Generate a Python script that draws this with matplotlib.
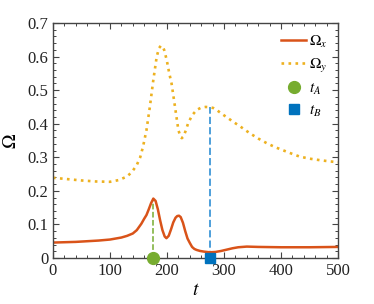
import numpy as np
import matplotlib
matplotlib.use('Agg')
import matplotlib.pyplot as plt
from matplotlib.ticker import MultipleLocator

plt.rcParams['font.family'] = ['Liberation Serif', 'DejaVu Serif']
plt.rcParams['mathtext.fontset'] = 'stix'

# 数据
t_x = [0, 20, 40, 60, 80, 100, 110, 120, 130, 140, 147, 155, 160, 164, 168, 172,
       176, 180, 184, 188, 192, 196, 199, 203, 207, 211, 215, 218, 221, 224, 228,
       232, 236, 240, 244, 248, 252, 258, 265, 275, 285, 295, 305, 315, 325, 340,
       360, 400, 450, 500]
omega_x = [0.046, 0.047, 0.048, 0.050, 0.052, 0.055, 0.058, 0.061, 0.066, 0.073,
           0.083, 0.102, 0.117, 0.128, 0.145, 0.163, 0.177, 0.170, 0.145, 0.112,
           0.083, 0.064, 0.059, 0.066, 0.085, 0.106, 0.120, 0.125, 0.126, 0.122,
           0.105, 0.080, 0.058, 0.045, 0.033, 0.027, 0.024, 0.021, 0.019, 0.017,
           0.018, 0.021, 0.025, 0.029, 0.032, 0.034, 0.033, 0.032, 0.032, 0.033]

t_y = [0, 25, 50, 75, 100, 115, 129, 138, 147, 153, 158, 164, 170, 176, 182, 186,
       189, 192, 195, 199.5, 204, 208, 214, 220, 224, 226, 229, 233, 237, 244, 252,
       260, 268, 275, 281, 287, 300, 316, 330, 345, 360, 375, 390, 405, 420, 433,
       450, 470, 485, 500]
omega_y = [0.239, 0.235, 0.231, 0.228, 0.227, 0.232, 0.242, 0.255, 0.277, 0.300,
           0.332, 0.381, 0.451, 0.530, 0.600, 0.625, 0.632, 0.631, 0.620, 0.590,
           0.550, 0.520, 0.451, 0.381, 0.360, 0.357, 0.362, 0.380, 0.401, 0.425,
           0.441, 0.448, 0.450, 0.449, 0.447, 0.441, 0.425, 0.406, 0.390, 0.372,
           0.356, 0.342, 0.330, 0.320, 0.310, 0.302, 0.296, 0.291, 0.288, 0.285]

t_A = 176
t_B = 275
omega_x_A = 0.177
omega_y_B = 0.449

fig = plt.figure(figsize=(3.74, 3.04), dpi=100)
ax = fig.add_axes([0.1417, 0.1513, 0.762, 0.773])

ax.plot([t_A, t_A], [0, omega_x_A], ls='--', color='#77AC30', lw=1.1)
ax.plot([t_B, t_B], [0, omega_y_B], ls='--', color='#4d9fdb', lw=1.4)
ax.plot(t_x, omega_x, color='#D95319', lw=1.8, label=r'$\Omega_x$')
ax.plot(t_y, omega_y, color='#EDB120', lw=1.9, ls=':', label=r'$\Omega_y$')
ax.plot([t_A], [0], 'o', color='#77AC30', ms=8.5, clip_on=False, label=r'$t_A$', zorder=5)
ax.plot([t_B], [0], 's', color='#0072BD', ms=6.8, clip_on=False, label=r'$t_B$', zorder=5)

ax.set_xlim(0, 500)
ax.set_ylim(0, 0.7)
ax.xaxis.set_major_locator(MultipleLocator(100))
ax.xaxis.set_minor_locator(MultipleLocator(20))
ax.yaxis.set_minor_locator(MultipleLocator(0.02))
ax.set_yticks(np.arange(0, 0.71, 0.1))
ax.set_yticklabels(['0', '0.1', '0.2', '0.3', '0.4', '0.5', '0.6', '0.7'])
ax.tick_params(which='both', direction='in', top=True, right=True, color='#444444',
               labelsize=12, labelcolor='#222222')
ax.tick_params(which='major', length=4, width=0.8)
ax.tick_params(which='minor', length=2, width=0.7)
for s in ax.spines.values():
    s.set_color('#444444')
    s.set_linewidth(1.0)

ax.set_xlabel(r'$t$', fontsize=14, labelpad=2)
ax.set_ylabel(r'$\Omega$', fontsize=14, labelpad=5)

ax.legend(loc='upper right', frameon=False, fontsize=11, handlelength=1.6,
          handletextpad=0.2, labelspacing=0.45, borderaxespad=0.3,
          bbox_to_anchor=(1.0, 1.0))

fig.savefig('out.png', dpi=100)
